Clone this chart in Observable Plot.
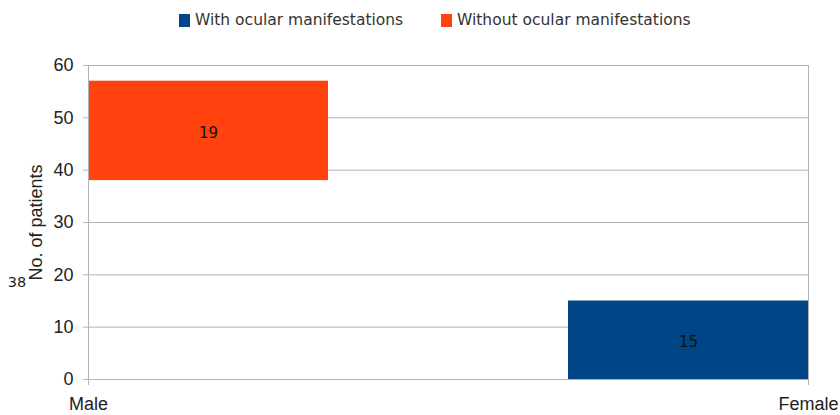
<!DOCTYPE html>
<html>
<head>
<meta charset="utf-8">
<script src="https://cdn.jsdelivr.net/npm/d3@7"></script>
<script src="https://cdn.jsdelivr.net/npm/@observablehq/plot@0.6"></script>
<style>
  html, body { margin: 0; padding: 0; background: #fff; }
  #legend { height: 40px; position: relative; font-family: "DejaVu Sans", sans-serif; font-size: 15.5px; color: #333; }
  .item { position: absolute; top: 0; height: 40px; display: flex; align-items: center; }
  .sw { width: 11px; height: 13px; margin-right: 5px; }
</style>
</head>
<body>
<div id="legend"></div>
<div id="chart"></div>
<script>
const categories = ["Male", "Female"];
const seriesNames = ["With ocular manifestations", "Without ocular manifestations"];
const withOcular = [38, 15];
const withoutOcular = [19, 0];
const yTicks = [0, 10, 20, 30, 40, 50, 60];
const colors = ["#004586", "#ff420e"];

// legend
const legend = document.getElementById("legend");
const legendX = [179, 441];
seriesNames.forEach((name, k) => {
  const it = document.createElement("div");
  it.className = "item";
  it.style.left = legendX[k] + "px";
  it.innerHTML = `<span class="sw" style="background:${colors[k]}"></span><span>${name}</span>`;
  legend.appendChild(it);
});

const rows = categories.map((c, i) => ({
  category: c,
  i,
  withV: withOcular[i],
  withoutV: withoutOcular[i]
}));

// Category slots along a linear x: bars occupy [2i, 2i+1], category ticks at 3i
const x1 = d => 2 * d.i;
const x2 = d => 2 * d.i + 1;
const xc = d => 2 * d.i + 0.5;

const tickFont = "Liberation Sans, Arial, sans-serif";
const labelFont = "DejaVu Sans, sans-serif";

const chart = Plot.plot({
  width: 840,
  height: 375,
  marginTop: 25,
  marginBottom: 36,
  marginLeft: 88,
  marginRight: 32,
  style: { fontFamily: tickFont, background: "#fff", overflow: "visible" },
  x: { type: "linear", domain: [0, 3] },
  y: { domain: [0, 60] },
  marks: [
    Plot.gridY(yTicks, { stroke: "#b3b3b3", strokeOpacity: 1 }),
    Plot.frame({ stroke: "#b3b3b3" }),
    // Without ocular manifestations (stacked on top of "with")
    Plot.rectY(rows.filter(d => d.withoutV > 0), {
      x1, x2, y1: d => d.withV, y2: d => d.withV + d.withoutV, fill: colors[1]
    }),
    // With ocular manifestations (the Male segment is not painted in the reference)
    Plot.rectY(rows.filter(d => d.category !== "Male" && d.withV > 0), {
      x1, x2, y1: 0, y2: d => d.withV, fill: colors[0]
    }),
    Plot.text(rows.filter(d => d.withoutV > 0), {
      x: xc, y: d => d.withV + d.withoutV / 2, text: d => String(d.withoutV),
      fontFamily: labelFont, fontSize: 15, fill: "#111", dy: 2
    }),
    Plot.text(rows.filter(d => d.category !== "Male" && d.withV > 0), {
      x: xc, y: d => d.withV / 2, text: d => String(d.withV),
      fontFamily: labelFont, fontSize: 15, fill: "#111", dy: 2
    }),
    // the Male "with" value label, displaced to the left edge as in the reference
    Plot.text(rows.filter(d => d.category === "Male"), {
      x: d => 3 * d.i, y: d => d.withV / 2, text: d => String(d.withV),
      dx: -71.5, dy: 2, fontFamily: labelFont, fontSize: 14.5, fill: "#222"
    }),
    Plot.axisY(yTicks, {
      tickSize: 5, tickPadding: 10, stroke: "#b3b3b3", fontSize: 18, fill: "#222", label: null
    }),
    Plot.axisX(categories.map((c, i) => 3 * i), {
      tickSize: 6, tickPadding: 12, stroke: "#b3b3b3", fontSize: 18, fill: "#222", label: null,
      tickFormat: v => categories[v / 3]
    }),
    Plot.ruleX([0], { stroke: "#b3b3b3" }),
    Plot.text(["No. of patients"], {
      frameAnchor: "left", textAnchor: "middle", rotate: -90, dx: -52,
      fontSize: 18, fill: "#222", fontFamily: tickFont
    })
  ]
});
document.getElementById("chart").appendChild(chart);
</script>
</body>
</html>
